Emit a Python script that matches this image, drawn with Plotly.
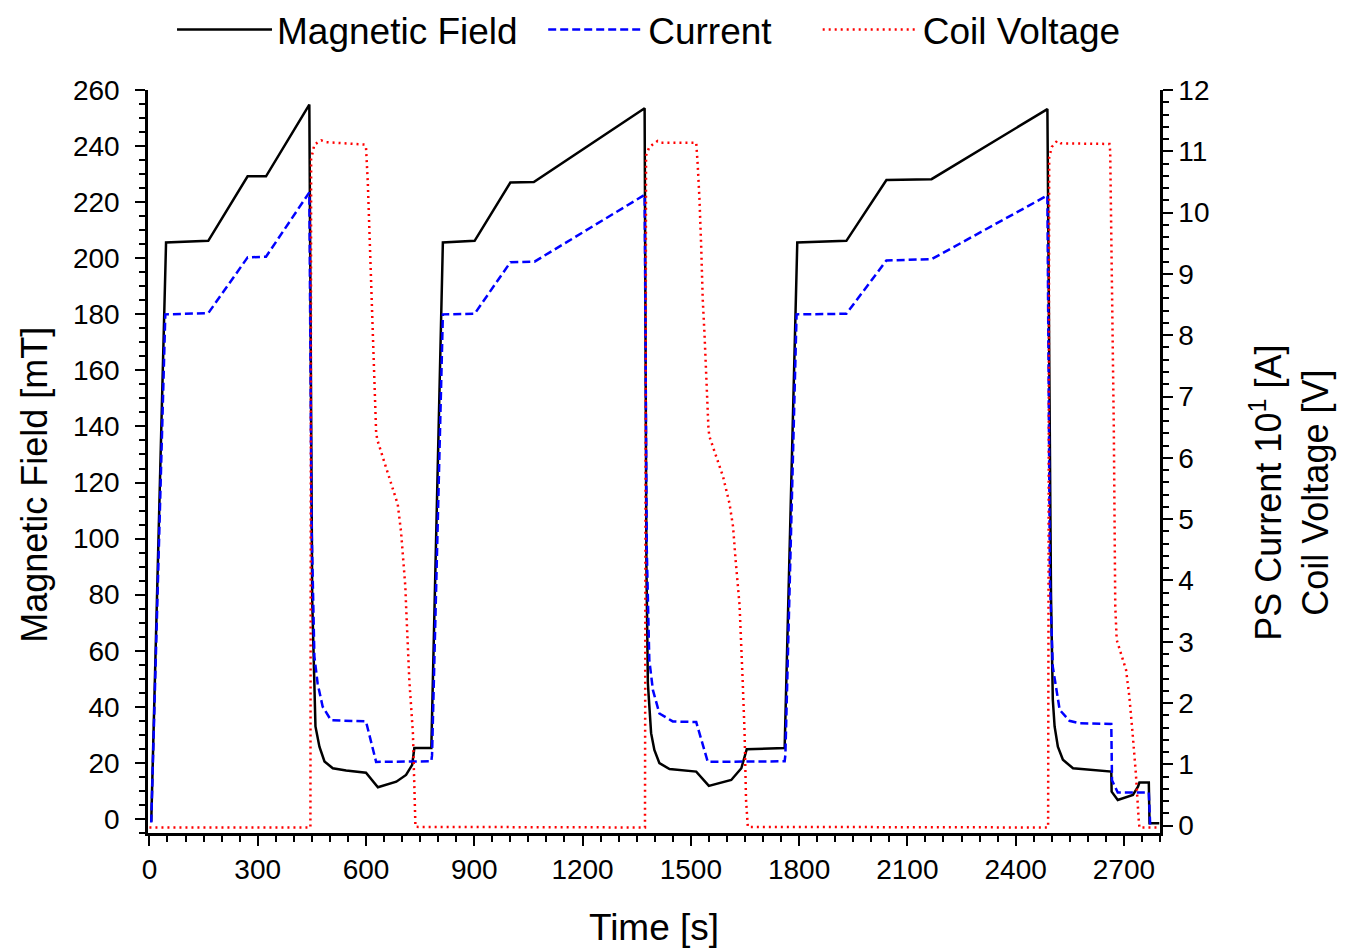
import plotly.graph_objects as go

# ---- data ----
t_field = [5, 46, 163, 272, 323, 443, 451, 457, 460, 471, 485, 508, 545, 600, 633, 684, 711, 728, 734, 781,
           813, 901, 1000, 1065, 1372, 1377, 1381, 1384, 1390, 1399, 1413, 1441, 1515, 1550, 1612, 1640, 1655, 1760,
           1795, 1931, 2042, 2167, 2488, 2498, 2503, 2508, 2517, 2531, 2559, 2665, 2666, 2683, 2725, 2739, 2743,
           2769, 2771, 2798]
field = [-1, 205.6, 206.2, 229.2, 229.2, 254.8, 78, 48.6, 33, 25.8, 20.5, 18.1, 17.3, 16.5, 11.3, 13.3, 15.7, 19.3,
         25.3, 25.3,
         205.6, 206.2, 227.0, 227.2, 253.5, 90, 48.5, 42.5, 30.6, 24.6, 19.9, 17.8, 16.9, 11.8, 13.9, 18.1, 24.9, 25.3,
         205.6, 206.2, 227.9, 228.2, 253.2, 80, 42.5, 33, 25.8, 21.1, 18.1, 16.9, 9.75, 6.8, 8.6, 11.5, 13,
         13, -1.5, -1.5]

t_current = [5, 44, 163, 272, 323, 443, 449, 453, 457, 466, 480, 503, 600, 628, 781, 783,
             813, 901, 1000, 1067, 1372, 1378, 1385, 1395, 1413, 1450, 1515, 1547, 1760, 1762,
             1793, 1931, 2042, 2167, 2488, 2495, 2503, 2522, 2549, 2577, 2665, 2667, 2683, 2769, 2771, 2773]
current = [0.05, 8.34, 8.36, 9.27, 9.28, 10.33, 5.0, 3.65, 2.76, 2.32, 1.94, 1.72, 1.70, 1.04, 1.05, 1.15,
           8.34, 8.35, 9.19, 9.20, 10.29, 4.5, 2.70, 2.21, 1.83, 1.70, 1.69, 1.04, 1.05, 1.15,
           8.34, 8.35, 9.22, 9.24, 10.28, 4.0, 2.59, 1.89, 1.71, 1.67, 1.66, 0.74, 0.54, 0.54, -0.02, -0.02]

t_voltage = [0, 446, 448, 457, 476, 490, 596, 600, 605, 610, 614, 619, 628, 631, 665, 688, 697, 704, 709, 711,
             720, 730, 734, 737,
             1373, 1376, 1385, 1408, 1418, 1515, 1519, 1524, 1529, 1533, 1538, 1549, 1552, 1589, 1607, 1617, 1624,
             1630, 1635, 1644, 1649, 1653, 1658,
             2490, 2493, 2500, 2515, 2525, 2660, 2662, 2667, 2672, 2676, 2680, 2706, 2715, 2724, 2733, 2741, 2743,
             2795]
voltage = [-0.03, -0.03, 10.87, 11.11, 11.18, 11.15, 11.11, 11.07, 10.49, 9.68, 8.70, 8.0, 6.43, 6.30, 5.65, 5.24,
           4.80, 4.34, 3.90, 3.60, 2.38, 1.51, 0.53, -0.02,
           -0.03, 10.93, 11.07, 11.17, 11.14, 11.14, 10.79, 10.22, 9.40, 8.59, 8.01, 6.46, 6.34, 5.70, 5.26, 4.88,
           4.34, 3.90, 3.60, 2.32, 1.51, 0.42, -0.02,
           -0.03, 10.9, 11.07, 11.17, 11.13, 11.12, 11.0, 9.0, 6.5, 3.59, 3.03, 2.54, 2.11, 1.51, 0.86, 0.1, -0.03,
           -0.03]

x_ticks = list(range(0, 2701, 300))
left_ticks = list(range(0, 261, 20))
right_ticks = list(range(0, 13))

x_title = "Time [s]"
left_title = "Magnetic Field [mT]"
right_title = "PS Current 10<sup>1</sup> [A]<br>Coil Voltage [V]"

FONT = "Liberation Sans, Arial, sans-serif"
NB = "\u00a0"

fig = go.Figure()
fig.add_trace(go.Scatter(x=t_field, y=field, name="Magnetic Field" + NB * 2, mode="lines",
                         line=dict(color="black", width=2.5), yaxis="y"))
fig.add_trace(go.Scatter(x=t_current, y=current, name="Current" + NB * 4, mode="lines",
                         line=dict(color="#0000ff", width=2.5, dash="8px,4px"), yaxis="y2"))
fig.add_trace(go.Scatter(x=t_voltage, y=voltage, name="Coil Voltage", mode="lines",
                         line=dict(color="#ff0000", width=2.5, dash="2px,4px"), yaxis="y2"))

axis_common = dict(showline=True, linecolor="black", linewidth=2.5, ticks="outside", ticklen=10,
                   tickwidth=2, tickcolor="black", showgrid=False, zeroline=False, automargin=False,
                   tickfont=dict(family=FONT, size=28, color="black"))

fig.update_layout(
    width=1345, height=949,
    paper_bgcolor="white", plot_bgcolor="white",
    margin=dict(l=140, r=193, t=82, b=124),
    font=dict(family=FONT, color="black"),
    xaxis=dict(range=[-4, 2800], tickvals=x_ticks,
               minor=dict(dtick=50, tick0=0, ticks="outside", ticklen=6, tickwidth=2, tickcolor="black"),
               title=dict(text=x_title, font=dict(family=FONT, size=37), standoff=30),
               **axis_common),
    yaxis=dict(range=[-5, 260], tickvals=left_ticks, ticklabelstandoff=10,
               minor=dict(dtick=5, tick0=0, ticks="outside", ticklen=6, tickwidth=2, tickcolor="black"),
               **axis_common),
    yaxis2=dict(range=[-0.12, 12], tickvals=right_ticks, overlaying="y", side="right", anchor="x",
                minor=dict(dtick=0.2, tick0=0, ticks="outside", ticklen=6, tickwidth=2, tickcolor="black"),
                **axis_common),
    legend=dict(orientation="h", x=0.4766, xanchor="center", xref="container",
                y=0.9768, yanchor="middle", yref="container",
                font=dict(family=FONT, size=37, color="black"),
                itemwidth=95, bgcolor="rgba(0,0,0,0)"),
    showlegend=True,
    annotations=[
        dict(text=left_title, textangle=-90, xref="paper", yref="paper", x=0, y=0.4687,
             xanchor="center", yanchor="middle", xshift=-113, showarrow=False,
             font=dict(family=FONT, size=36, color="black")),
        dict(text=right_title, textangle=-90, xref="paper", yref="paper", x=1, y=0.458,
             xanchor="center", yanchor="middle", xshift=130, showarrow=False,
             font=dict(family=FONT, size=36, color="black")),
    ],
)

fig.write_html("out.html")
